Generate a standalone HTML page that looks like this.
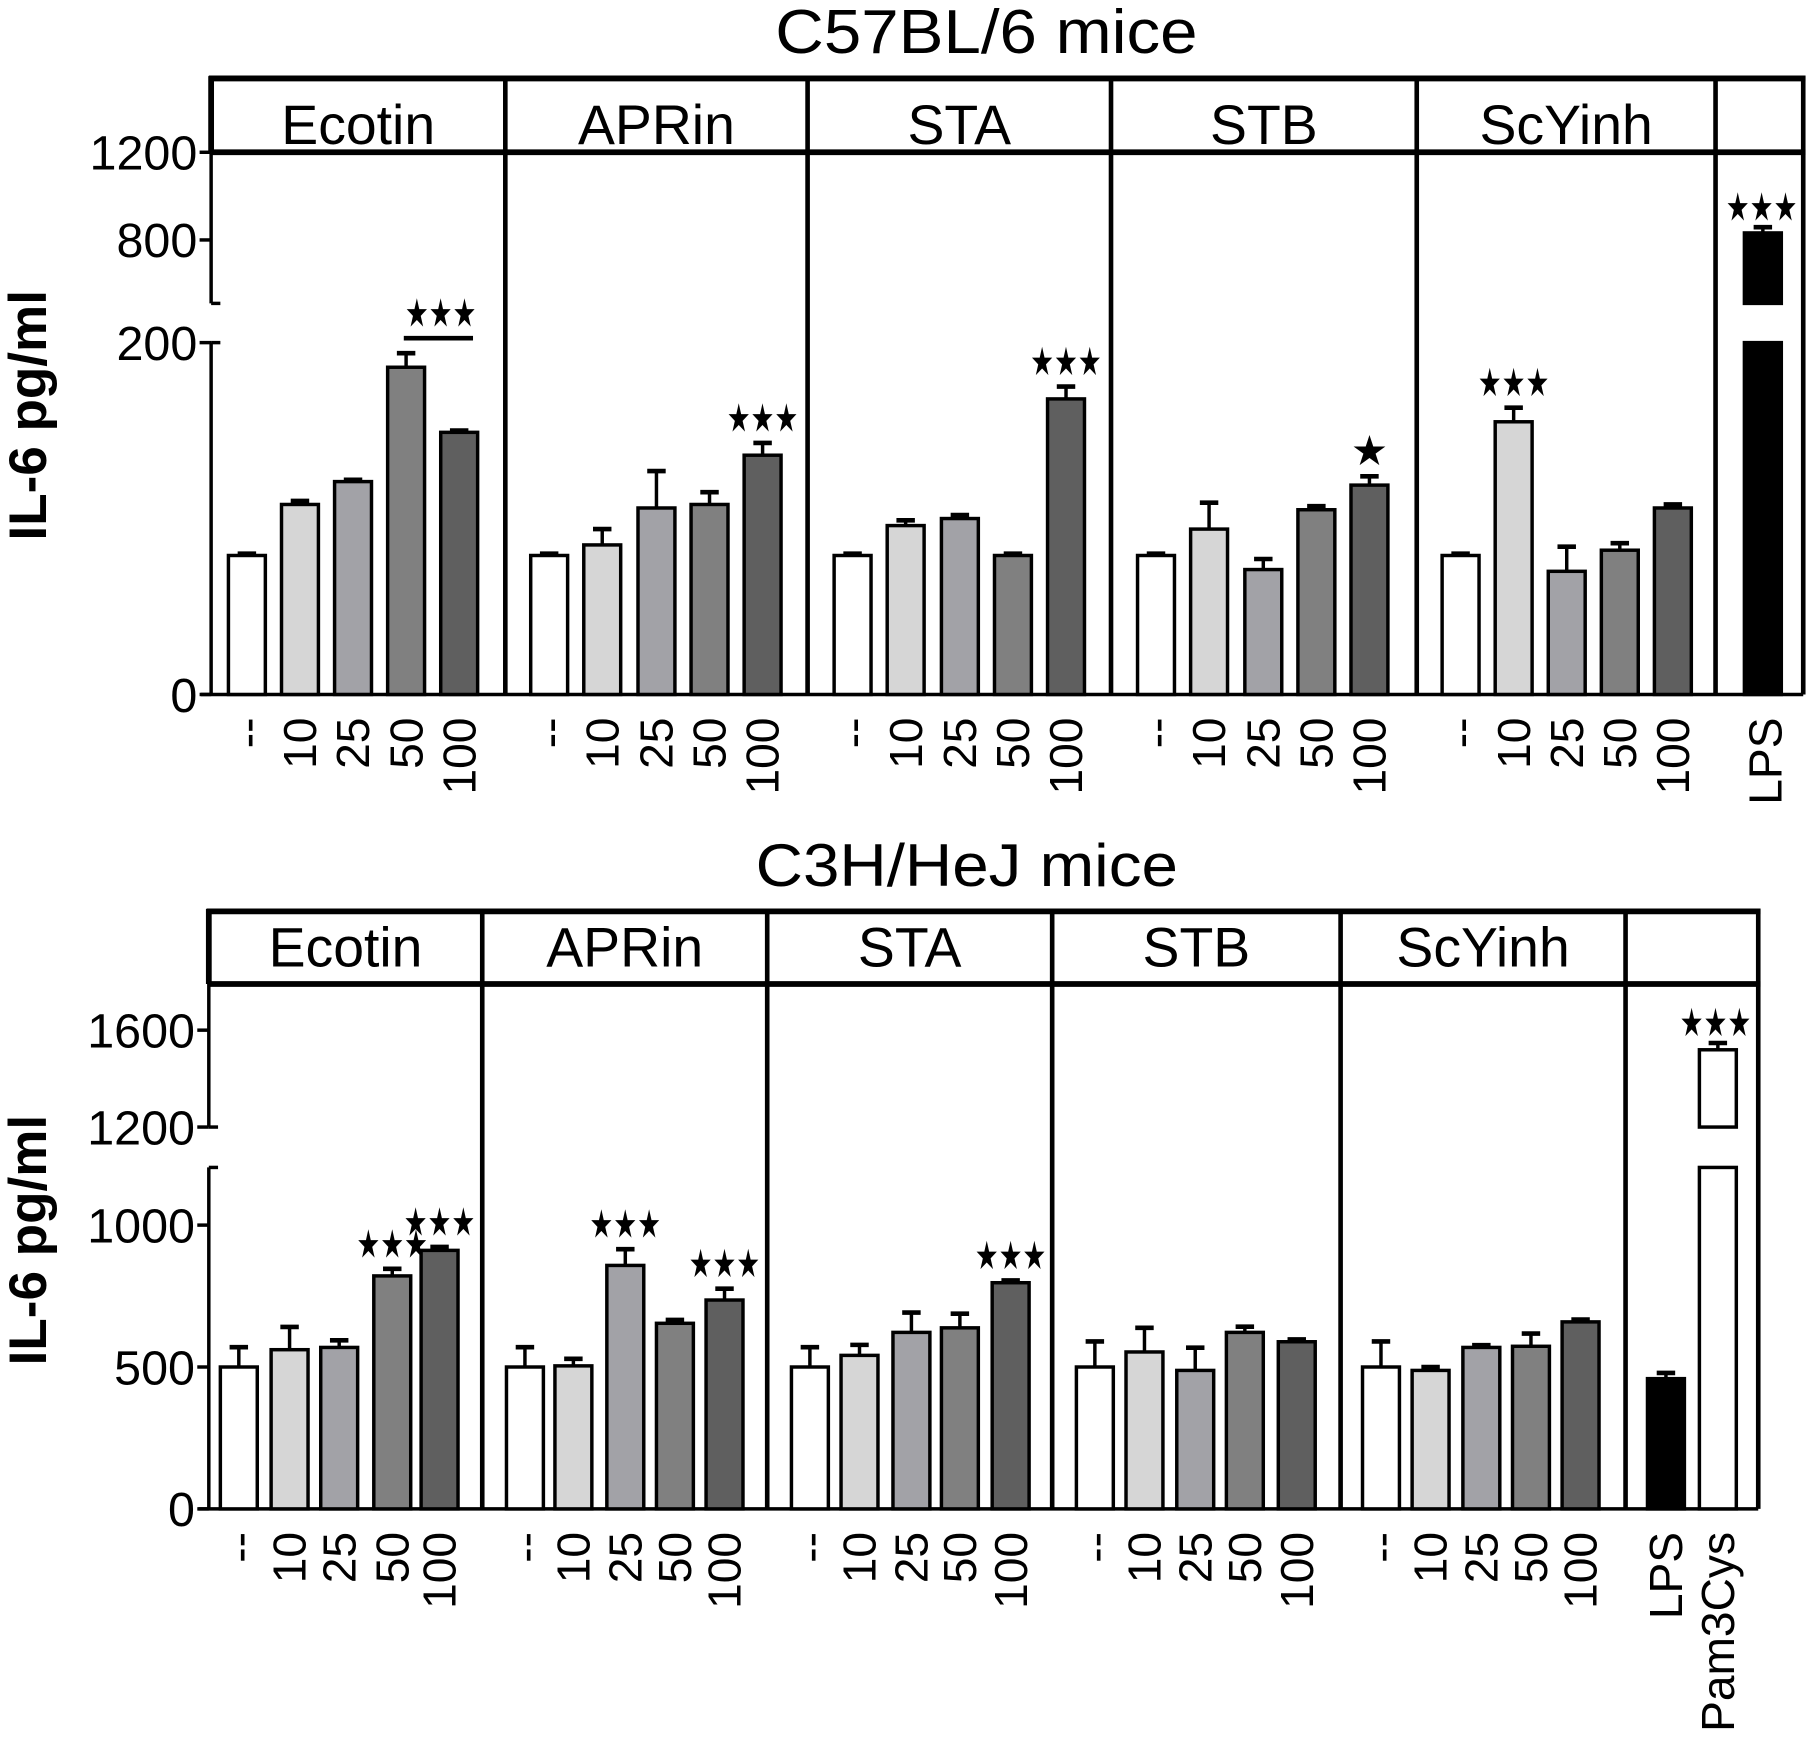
<!DOCTYPE html>
<html><head><meta charset="utf-8"><style>
html,body{margin:0;padding:0;background:#fff;}
svg{display:block;font-family:"Liberation Sans",Arial,sans-serif;}
</style></head><body>
<svg id="fig" width="1809" height="1750" viewBox="0 0 1568 1517" preserveAspectRatio="none" xmlns="http://www.w3.org/2000/svg">
<text x="855" y="46" font-size="54" text-anchor="middle" textLength="366" lengthAdjust="spacingAndGlyphs">C57BL/6 mice</text>
<text x="838" y="768" font-size="52" text-anchor="middle" textLength="366" lengthAdjust="spacingAndGlyphs">C3H/HeJ mice</text>
<text transform="translate(40,360) rotate(-90)" font-size="46" font-weight="bold" text-anchor="middle">IL-6 pg/ml</text>
<text transform="translate(40,1075) rotate(-90)" font-size="46" font-weight="bold" text-anchor="middle">IL-6 pg/ml</text>
<g id="g"></g>
</svg>
<script>
// ---- data: top chart (C57BL/6) ----
const groupsTop = ["Ecotin","APRin","STA","STB","ScYinh"];
const doses = ["--","10","25","50","100"];
const topEcotin = [79,108,121,186,149];
const topAPRin = [79,85,106,108,136];
const topSTA = [79,96,100,79,168];
const topSTB = [79,94,71,105,119];
const topScYinh = [79,155,70,82,106];
const topErrEcotin = [1,2,1,8,1];
const topErrAPRin = [1,9,21,7,7];
const topErrSTA = [1,3,2,1,7];
const topErrSTB = [1,15,6,2,5];
const topErrScYinh = [1,8,14,4,2];
const topLPS = [832];
const topLPSErr = [26];
const topTicks = [0,200,800,1200];
const topStars = [["Ecotin",3,"★★★"],["APRin",4,"★★★"],["STA",4,"★★★"],["STB",4,"★"],["ScYinh",1,"★★★"]];
// ---- data: bottom chart (C3H/HeJ) ----
const botEcotin = [500,561,569,821,911];
const botAPRin = [500,504,858,654,736];
const botSTA = [500,541,622,638,797];
const botSTB = [500,553,488,622,589];
const botScYinh = [500,488,569,573,659];
const botErrEcotin = [70,80,25,25,12];
const botErrAPRin = [70,25,57,12,40];
const botErrSTA = [70,37,70,50,8];
const botErrSTB = [90,85,80,20,8];
const botErrScYinh = [90,12,8,45,8];
const botControls = ["LPS","Pam3Cys"];
const botControlVals = [459,1519];
const botControlErr = [20,28];
const botTicks = [0,500,1000,1200,1600];
const botStars = [["Ecotin",3,"★★★"],["Ecotin",4,"★★★"],["APRin",2,"★★★"],["APRin",4,"★★★"],["STA",4,"★★★"]];

const colors = ["#ffffff","#d6d6d6","#a2a2a7","#808080","#5f5f5f"];
const NS="http://www.w3.org/2000/svg";
const G=document.getElementById('g');
function mk(tag,attrs,parent){const e=document.createElementNS(NS,tag);for(const k in attrs)e.setAttribute(k,attrs[k]);(parent||G).appendChild(e);return e;}

function yTop(v){ if(v<=200) return 602-v*(305/200); return 208-(v-800)*(76/400); }
function yBot(v){ if(v<1200) return 1308-v*(246/1000); return 977-(v-1200)*(84/400); }

function starText(x,y,s,name){
  const attrs={x:x,y:y,'font-size':s.length>1?34:36,'text-anchor':'middle'};
  if(s.length>1){attrs.textLength=62;attrs.lengthAdjust='spacingAndGlyphs';}
  const st=mk('text',attrs);
  
  
  st.textContent=s;
  return st;
}

function chart(cfg){
  const {name,y,boxTop,hdrBot,seps,axisX,baseY,groupCenters,vals,errs,ticks,stars,fsHdr,hdrY,breakLo,breakHi,yMaxLo} = cfg;
  let l=mk('line',{x1:seps[0]-2,y1:boxTop,x2:seps[seps.length-1]+2,y2:boxTop,stroke:'#000','stroke-width':5});
  
  l=mk('line',{x1:axisX,y1:hdrBot,x2:seps[seps.length-1]+2,y2:hdrBot,stroke:'#000','stroke-width':5});
  
  seps.forEach((sx,i)=>{
    const s=mk('line',{x1:sx,y1:boxTop-2,x2:sx,y2:(i===0?hdrBot:baseY),stroke:'#000','stroke-width':i===0?5:4});
    
    
  });
  let a=mk('line',{x1:axisX,y1:hdrBot,x2:axisX,y2:breakHi,stroke:'#000','stroke-width':3});
  
  a=mk('line',{x1:axisX,y1:breakLo,x2:axisX,y2:baseY,stroke:'#000','stroke-width':3});
  
  mk('line',{x1:axisX,y1:breakHi,x2:axisX+8,y2:breakHi,stroke:'#000','stroke-width':3});
  mk('line',{x1:axisX,y1:breakLo,x2:axisX+8,y2:breakLo,stroke:'#000','stroke-width':3});
  a=mk('line',{x1:axisX-9,y1:baseY,x2:seps[seps.length-1],y2:baseY,stroke:'#000','stroke-width':3});
  
  ticks.forEach(t=>{
    const ty=y(t);
    mk('line',{x1:axisX-10,y1:ty,x2:axisX,y2:ty,stroke:'#000','stroke-width':3});
    const tx=mk('text',{x:axisX-12,y:ty+15,'font-size':42,'text-anchor':'end'});
    
    
    tx.textContent=t;
  });
  groupsTop.forEach((gname,gi)=>{
    const h=mk('text',{x:(seps[gi]+seps[gi+1])/2,y:hdrY,'font-size':fsHdr,'text-anchor':'middle'});
    
    
    h.textContent=gname;
    groupCenters[gi].forEach((cx,di)=>{
      drawBar(name,cx,vals[gi][di],errs[gi][di],colors[di],y,baseY,yMaxLo,gname.toLowerCase()+'-'+doses[di]);
      const lb=mk('text',{transform:`translate(${cx+14},${baseY+20}) rotate(-90)`,'font-size':40,'text-anchor':'end'});
      
      
      lb.textContent=doses[di];
    });
  });
  stars.forEach(s=>{
    const gi=groupsTop.indexOf(s[0]);const cx=groupCenters[gi][s[1]];
    const v=vals[gi][s[1]]+errs[gi][s[1]];
    starText(cx,y(v)-10,s[2],name);
  });
}
function drawBar(name,cx,v,e,fill,y,baseY,yMaxLo,id){
  const w=32;
  const ty=y(v), ey=y(v+e);
  mk('line',{x1:cx,y1:ty,x2:cx,y2:ey,stroke:'#000','stroke-width':3});
  mk('line',{x1:cx-8,y1:ey,x2:cx+8,y2:ey,stroke:'#000','stroke-width':4});
  if(v>yMaxLo.v){
    const r1=mk('rect',{x:cx-w/2,y:ty,width:w,height:yMaxLo.hiBot-ty,fill:fill,stroke:'#000','stroke-width':3});
    
    
    const r2=mk('rect',{x:cx-w/2,y:yMaxLo.loTop,width:w,height:baseY-yMaxLo.loTop,fill:fill,stroke:'#000','stroke-width':3});
    
    
  } else {
    const r=mk('rect',{x:cx-w/2,y:ty,width:w,height:baseY-ty,fill:fill,stroke:'#000','stroke-width':3});
    
    
  }
}
chart({name:'top',y:yTop,boxTop:68,hdrBot:132,seps:[183,438,700,963,1228,1487,1563],axisX:183,baseY:602,
  groupCenters:[[214,260,306,352,398],[476,522,569,615,661],[739,785,832,878,924],[1002,1048,1095,1141,1187],[1266,1312,1358,1404,1450]],
  vals:[topEcotin,topAPRin,topSTA,topSTB,topScYinh],errs:[topErrEcotin,topErrAPRin,topErrSTA,topErrSTB,topErrScYinh],
  ticks:topTicks,stars:topStars.slice(1),fsHdr:48,hdrY:125,breakHi:263,breakLo:297,yMaxLo:{v:200,hiBot:263,loTop:297}});
(function(){const yb=yTop(topEcotin[3]+topErrEcotin[3])-13;
  const ln=mk('line',{x1:350,y1:yb,x2:410,y2:yb,stroke:'#000','stroke-width':4});
  
  starText(382,yb-10,'★★★','top');})();
drawBar('top',1528,topLPS[0],topLPSErr[0],'#000',yTop,602,{v:200,hiBot:263,loTop:297},'lps');
(function(){starText(1527,yTop(topLPS[0]+topLPSErr[0])-6,'★★★','top');
  const lb=mk('text',{transform:'translate(1544,622) rotate(-90)','font-size':40,'text-anchor':'end'});
  lb.textContent='LPS';})();
chart({name:'bottom',y:yBot,boxTop:790,hdrBot:853,seps:[181,418,665,912,1162,1409,1524],axisX:181,baseY:1308,
  groupCenters:[[207,251,294,340,381],[455,497,542,585,628],[702,745,790,832,876],[949,992,1036,1079,1124],[1197,1240,1284,1327,1370]],
  vals:[botEcotin,botAPRin,botSTA,botSTB,botScYinh],errs:[botErrEcotin,botErrAPRin,botErrSTA,botErrSTB,botErrScYinh],
  ticks:botTicks,stars:botStars,fsHdr:48,hdrY:838,breakHi:977,breakLo:1012,yMaxLo:{v:1200,hiBot:977,loTop:1012}});
const ctrlX=[1444,1489], ctrlFill=['#000','#fff'];
botControls.forEach((c,i)=>{
  drawBar('bottom',ctrlX[i],botControlVals[i],botControlErr[i],ctrlFill[i],yBot,1308,{v:1200,hiBot:977,loTop:1012},c.toLowerCase());
  const lb=mk('text',{transform:`translate(${ctrlX[i]+14},1328) rotate(-90)`,'font-size':40,'text-anchor':'end'});
  
  
  lb.textContent=c;
});
starText(1487,yBot(botControlVals[1]+botControlErr[1])-6,'★★★','bottom');
</script>
</body></html>
